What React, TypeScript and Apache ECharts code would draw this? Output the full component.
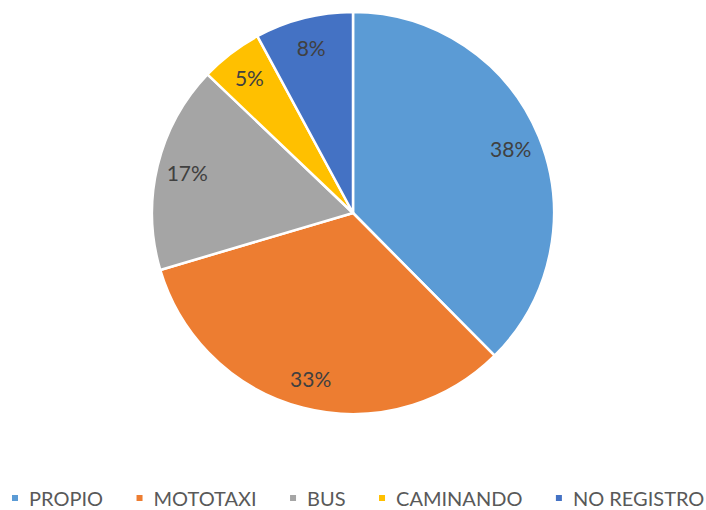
import React, { useEffect, useRef } from "react";
import * as echarts from "echarts";

const categories = ["PROPIO", "MOTOTAXI", "BUS", "CAMINANDO", "NO REGISTRO"];
const values = [37.6, 32.9, 16.7, 5.0, 7.9];
const percentLabels = ["38%", "33%", "17%", "5%", "8%"];
const colors = ["#5B9BD5", "#ED7D31", "#A5A5A5", "#FFC000", "#4472C4"];

export default function App() {
  const ref = useRef<HTMLDivElement>(null);
  useEffect(() => {
    if (!ref.current) return;
    const chart = echarts.init(ref.current, null, { renderer: "svg" });
    const data = categories.map((name, i) => ({ name, value: values[i], itemStyle: { color: colors[i] } }));
    const font = "Lato, 'Open Sans', sans-serif";
    chart.setOption({
      animation: false,
      color: colors,
      legend: {
        data: categories,
        bottom: 2,
        left: 10,
        width: 706,
        padding: 0,
        icon: "rect",
        itemWidth: 8,
        itemHeight: 8,
        itemGap: 31.5,
        textStyle: { fontFamily: font, fontSize: 20, color: "#595959", padding: [0, 0, 0, 5] },
      },
      series: [
        {
          type: "pie",
          center: [353, 213],
          radius: [0, 201],
          startAngle: 90,
          clockwise: true,
          data,
          label: { show: false },
          labelLine: { show: false },
          itemStyle: { borderColor: "#ffffff", borderWidth: 2.5 },
          silent: true,
        },
        {
          type: "pie",
          center: [353, 213],
          radius: [134, 201],
          startAngle: 90,
          clockwise: true,
          data: categories.map((name, i) => ({ name, value: values[i], itemStyle: { color: "rgba(0,0,0,0)" } })),
          label: {
            show: true,
            position: "inside",
            formatter: (p: any) => percentLabels[p.dataIndex],
            fontFamily: font,
            fontSize: 21,
            color: "#404040",
          },
          labelLine: { show: false },
          silent: true,
          legendHoverLink: false,
        },
      ],
    });
    return () => chart.dispose();
  }, []);
  return <div ref={ref} style={{ position: "absolute", left: 0, top: 0, width: 706, height: 510 }} />;
}
